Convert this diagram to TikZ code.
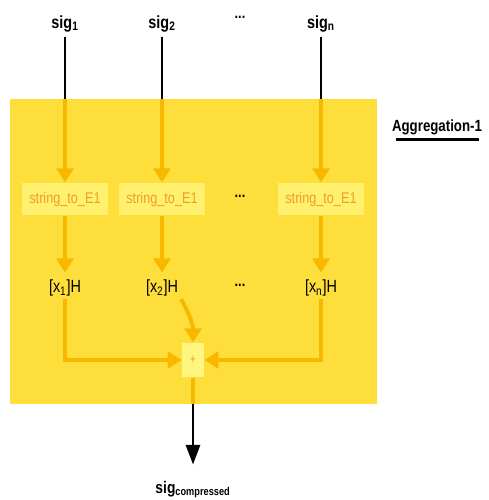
\documentclass[tikz,border=0pt]{standalone}
\usepackage{fontspec}
\setmainfont{Liberation Sans}[FakeStretch=0.82]
\usetikzlibrary{arrows.meta}

\definecolor{aggyellow}{RGB}{253,222,58}
\definecolor{boxyellow}{RGB}{255,240,112}
\definecolor{addyellow}{RGB}{255,246,130}
\definecolor{flowor}{RGB}{249,184,0}
\definecolor{txtor}{RGB}{243,158,30}

\begin{document}
\begin{tikzpicture}[x=0.025cm, y=-0.025cm,
	siglabel/.style={anchor=base, font=\bfseries\fontsize{12.5}{14}\selectfont},
	convbox/.style={fill=boxyellow, text=txtor, minimum width=2.15cm, minimum height=0.82cm, inner sep=0pt, font=\fontsize{11}{13}\selectfont},
	mulnode/.style={inner sep=2pt, font=\fontsize{12.5}{14}\selectfont},
	addbox/.style={fill=addyellow, text=txtor, minimum width=0.55cm, minimum height=0.87cm, inner sep=0pt, font=\fontsize{9}{11}\selectfont},
	dotsnode/.style={font=\bfseries\fontsize{11}{13}\selectfont},
	wire/.style={line width=2pt, black},
	flow/.style={line width=2.8pt, flowor, -{Triangle[length=10pt,width=12pt]}},
]
	\useasboundingbox (0,0) rectangle (488,500);

	% aggregation block
	\fill [aggyellow] (10,99) rectangle (377,404);
	\node [anchor=base, inner sep=0pt, font=\bfseries\fontsize{11.5}{13}\selectfont] (agg) at (437,131) {Aggregation-1};
	\draw [line width=1.6pt] ([xshift=3pt,yshift=-6pt]agg.base west) -- ([xshift=-2pt,yshift=-6pt]agg.base east);

	% inputs
	\node [siglabel] (sig1) at (65,28) {sig\textsubscript{1}};
	\node [siglabel] (sig2) at (162,28) {sig\textsubscript{2}};
	\node [dotsnode] (dtop) at (240,17) {...};
	\node [siglabel] (sign) at (321,28) {sig\textsubscript{n}};

	\coordinate (e1) at (65,99);
	\coordinate (e2) at (162,99);
	\coordinate (en) at (321,99);

	\node [convbox] (s1) at (65,199) {string\_to\_E1};
	\node [convbox] (s2) at (162,199) {string\_to\_E1};
	\node [dotsnode] (dmid) at (240,196) {...};
	\node [convbox] (sn) at (321,199) {string\_to\_E1};

	\node [mulnode] (m1) at (65,288) {[x\textsubscript{1}]H};
	\node [mulnode] (m2) at (162,288) {[x\textsubscript{2}]H};
	\node [dotsnode] (dbot) at (240,285) {...};
	\node [mulnode] (mn) at (321,288) {[x\textsubscript{n}]H};

	\node [addbox] (add) at (193,360) {+};

	\coordinate (out) at (193,404);
	\node [anchor=base, font=\bfseries\fontsize{12}{14}\selectfont] (sigc) at (193,493) {sig\textsubscript{compressed}};

	% black wires outside the block
	\draw [wire] (sig1.south) -- (e1);
	\draw [wire] (sig2.south) -- (e2);
	\draw [wire] (sign.south) -- (en);

	% flow inside the block
	\draw [flow] (e1) -- (s1.north);
	\draw [flow] (e2) -- (s2.north);
	\draw [flow] (en) -- (sn.north);

	\draw [flow, shorten >=3pt] (s1.south) -- (m1.north);
	\draw [flow, shorten >=3pt] (s2.south) -- (m2.north);
	\draw [flow, shorten >=3pt] (sn.south) -- (mn.north);

	\draw [flow] (m1.south) |- (add.west);
	\draw [flow] (mn.south) |- (add.east);
	\draw [flow] (m2.south east) to [out=-60, in=90] (add.north);

	\draw [flow, -] (add.south) -- (out);
	\draw [wire, -{Triangle[length=14pt,width=10pt]}, shorten >=8pt] (out) -- (sigc.north);
\end{tikzpicture}
\end{document}
